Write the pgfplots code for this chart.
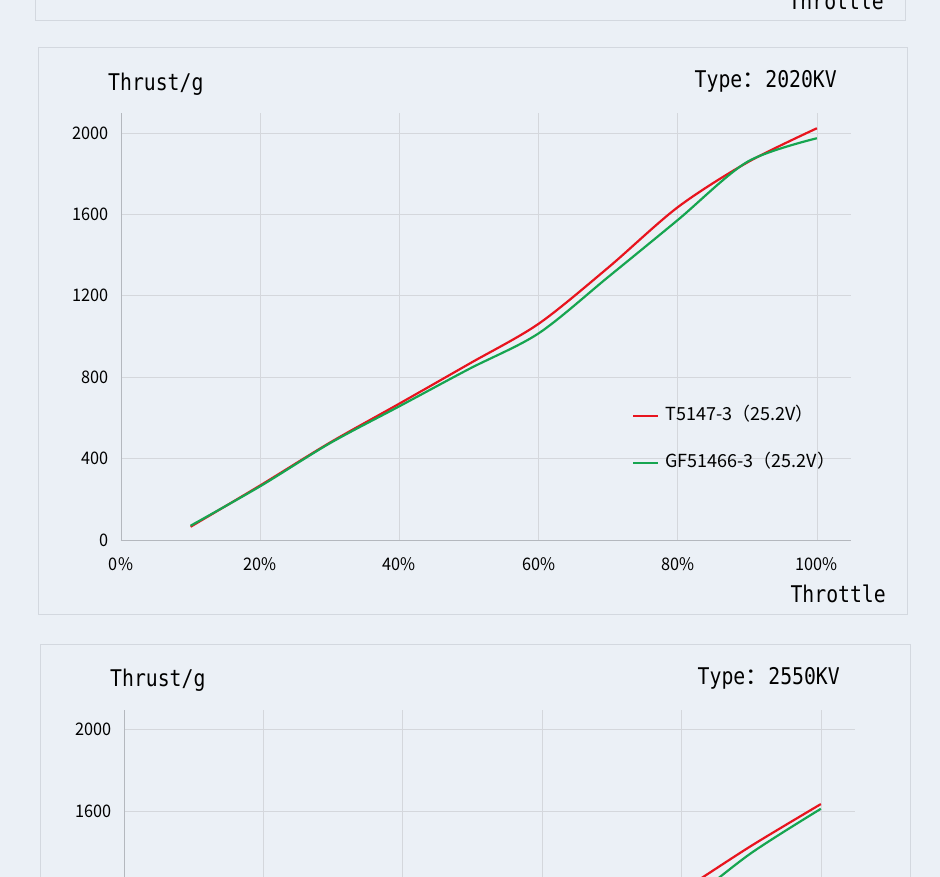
\documentclass[border=0pt]{standalone}
\usepackage{pgfplots}
\pgfplotsset{compat=1.18}
\usepackage{fontspec}
\setmainfont{Noto Sans CJK SC}
\newfontfamily\cjk{Noto Sans CJK SC}
\newfontfamily\tickfnt[FakeStretch=0.94]{Noto Sans CJK SC}
\newfontfamily\mono[FakeStretch=0.86]{DejaVu Sans Mono}
\definecolor{bg}{HTML}{EBF0F6}
\definecolor{panelbd}{HTML}{D3D8DF}
\definecolor{gridc}{HTML}{D4D7DC}
\definecolor{axisc}{HTML}{B4B8BE}
\definecolor{redc}{HTML}{E8141E}
\definecolor{greenc}{HTML}{16A550}
\newcommand{\titlefont}{\mono\fontsize{23}{27}\selectfont}

\pgfplotstableread{
x y
10 65
20 268
30 478
40 670
50 865
60 1062
70 1338
80 1635
90 1855
100 2023
}\redA
\pgfplotstableread{
x y
10 70
20 264
30 475
40 657
50 840
60 1015
70 1292
80 1572
90 1858
100 1974
}\greenA
\pgfplotstableread{
x y
70 1000
80 1210
90 1430
100 1634
}\redB
\pgfplotstableread{
x y
70 930
80 1135
90 1395
100 1611
}\greenB

\pgfplotsset{panel/.style={
  scale only axis,
  axis lines=left,
  axis line style={draw=axisc, line width=0.9pt, -},
  grid=major,
  grid style={draw=gridc, line width=0.7pt},
  major tick length=0pt,
  tick label style={font=\tickfnt\fontsize{17.3}{20}\selectfont, text=black},
  /pgf/number format/assume math mode=true,
  /pgf/number format/1000 sep={},
  ytick={0,400,800,1200,1600,2000},
  xtick={0,20,40,60,80,100},
  xticklabels={0\%,20\%,40\%,60\%,80\%,100\%},
  yticklabel style={xshift=-9pt},
  xticklabel style={yshift=-14pt},
  xmin=0, xmax=104.9,
  width=730pt,
  clip=false,
}}

\begin{document}
\begin{tikzpicture}[x=1pt,y=1pt]
\useasboundingbox (0,0) rectangle (940,877);
\clip (0,0) rectangle (940,877);
\fill[bg] (0,0) rectangle (940,877);
% top panel (cut)
\draw[panelbd, line width=1pt, fill=bg] (35,930) rectangle (905,856);
\node[anchor=base east, inner sep=0pt, font=\titlefont] at (884,867) {Throttle};
% middle panel
\draw[panelbd, line width=1pt, fill=bg] (38,829) rectangle (907,262);
\node[anchor=base west, inner sep=0pt, font=\titlefont] at (108,786) {Thrust/g};
\node[anchor=base east, inner sep=0pt, font=\titlefont] at (837,789) {Type{\cjk ：}2020KV};
\node[anchor=base east, inner sep=0pt, font=\titlefont] at (886,274) {Throttle};
\begin{axis}[panel, at={(121pt,337pt)}, anchor=south west,
  height=427pt, ymin=0, ymax=2098,
  legend cell align=left,
  legend style={draw=none, fill=none, at={(0.7,0.236)}, anchor=west, inner sep=0pt,
    font=\cjk\fontsize{18}{20}\selectfont, row sep=30pt,
    nodes={inner sep=0pt, text height=13pt, text depth=4pt},
    /tikz/every odd column/.append style={column sep=6pt}},
  legend image code/.code={\pgfsetlinewidth{2.2pt}\draw[#1, line width=2.2pt] (0pt,0pt) -- (25pt,0pt);},
  legend image post style={line width=2.2pt},
]
\addplot[draw=redc, line width=2.2pt, smooth, no marks] table {\redA};
\addlegendentry{T5147-3（25.2V）}
\addplot[draw=greenc, line width=2.2pt, smooth, no marks] table {\greenA};
\addlegendentry{GF51466-3（25.2V）}
\end{axis}
% bottom panel (cut)
\draw[panelbd, line width=1pt, fill=bg] (40,232) rectangle (910,-60);
\node[anchor=base west, inner sep=0pt, font=\titlefont] at (110,190) {Thrust/g};
\node[anchor=base east, inner sep=0pt, font=\titlefont] at (840,192) {Type{\cjk ：}2550KV};
\begin{axis}[panel, at={(124pt,-262pt)}, anchor=south west,
  height=429pt, ymin=0, ymax=2093, width=731pt,
  ytick={1600,2000}, extra y ticks={0,400,800,1200}, extra y tick labels={},
  xticklabels={}]
\addplot[draw=redc, line width=2.2pt, smooth, no marks] table {\redB};
\addplot[draw=greenc, line width=2.2pt, smooth, no marks] table {\greenB};
\end{axis}
\end{tikzpicture}
\end{document}
